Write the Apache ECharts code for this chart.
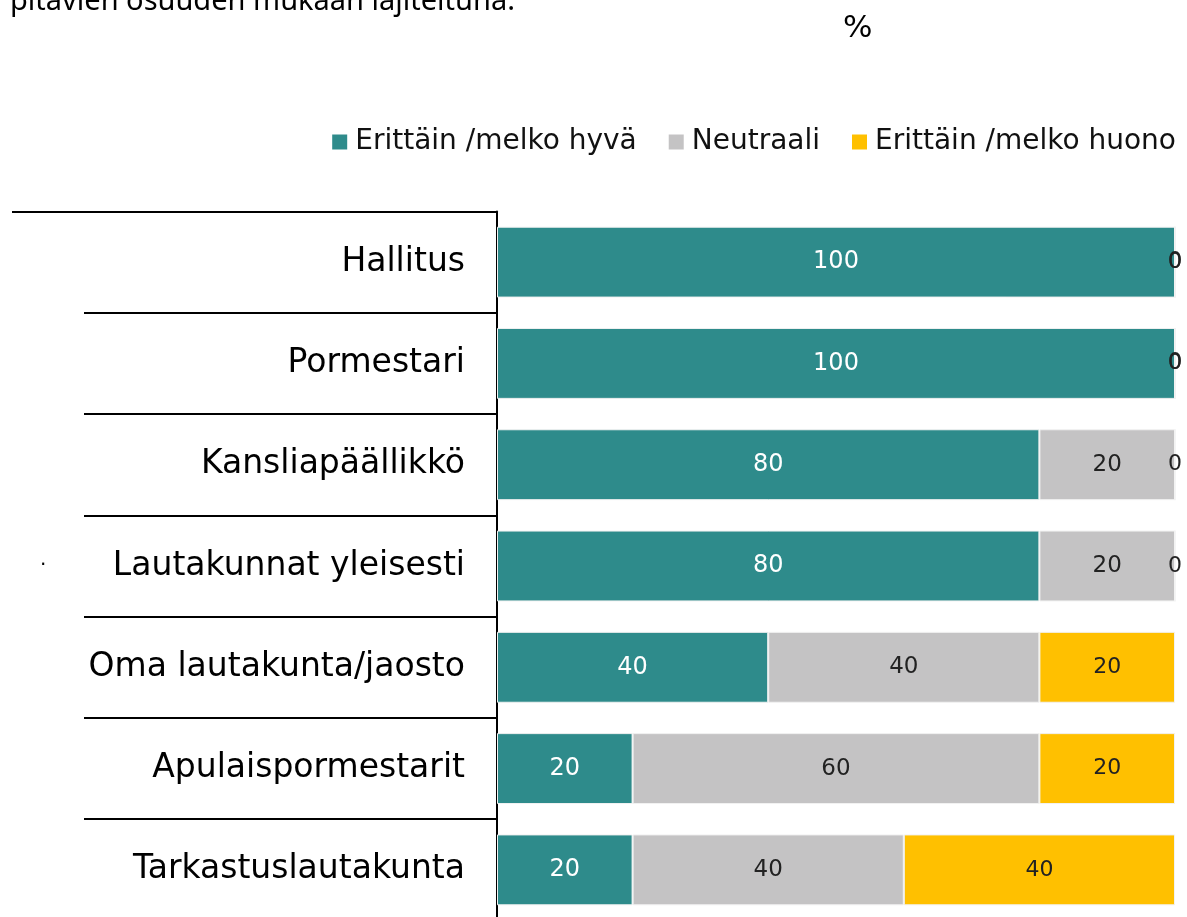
<!DOCTYPE html>
<html>
<head>
<meta charset="utf-8">
<script src="https://cdn.jsdelivr.net/npm/echarts@6/dist/echarts.min.js"></script>
<style>
  html, body { margin: 0; padding: 0; background: #fff; }
  #main { width: 1187px; height: 917px; }
</style>
</head>
<body>
<div id="main"></div>
<script>
let categories = [
	"Hallitus",
	"Pormestari",
	"Kansliapäällikkö",
	"Lautakunnat yleisesti",
	"Oma lautakunta/jaosto",
	"Apulaispormestarit",
	"Tarkastuslautakunta",
];

let good = [100, 100, 80, 80, 40, 20, 20];
let neutral = [0, 0, 20, 20, 40, 60, 40];
let bad = [0, 0, 0, 0, 20, 20, 40];

let font = "DejaVu Sans";

let myChart = echarts.init(document.getElementById("main"));

let options = {
	animation: false,
	textStyle: { fontFamily: font },
	legend: {
		right: 6,
		top: 123,
		itemWidth: 15,
		itemHeight: 15,
		itemGap: 32,
		icon: "rect",
		itemStyle: { borderWidth: 0 },
		textStyle: { fontSize: 28, color: "#111", fontFamily: font, padding: [0, 0, 0, 3] },
		data: ["Erittäin /melko hyvä", "Neutraali", "Erittäin /melko huono"],
	},
	grid: {
		left: 497,
		right: 12,
		top: 211.5,
		height: 709,
		outerBoundsMode: "none",
	},
	xAxis: {
		type: "value",
		min: 0,
		max: 100,
		show: false,
	},
	yAxis: {
		type: "category",
		inverse: true,
		data: categories,
		axisLine: { show: true, lineStyle: { color: "#000", width: 2 } },
		axisTick: { show: true, length: 413, lineStyle: { color: "#000", width: 2 } },
		axisLabel: { margin: 32, fontSize: 33, color: "#000", fontFamily: font, padding: [4, 0, 0, 0] },
	},
	graphic: [
		// cut off subtitle line at the top
		{
			type: "text",
			left: 10,
			top: -13,
			style: { text: "pitävien osuuden mukaan lajiteltuna.", font: "29px 'Noto Sans'", fill: "#000" },
		},
		{
			type: "text",
			left: 843,
			top: 13,
			style: { text: "%", font: "31px " + font, fill: "#000" },
		},
		{
			type: "line",
			shape: { x1: 12, y1: 212, x2: 90, y2: 212 },
			style: { stroke: "#000", lineWidth: 2 },
		},
		{
			type: "text",
			left: 40,
			top: 556,
			style: { text: "·", font: "20px " + font, fill: "#000" },
		},
	],
	series: [
		{
			name: "Erittäin /melko hyvä",
			type: "bar",
			stack: "all",
			barCategoryGap: "30%",
			data: good,
			itemStyle: { color: "#2E8B8B", borderColor: "#f2f2f2", borderWidth: 1 },
			label: { show: true, color: "#fff", fontSize: 24, fontFamily: font },
		},
		{
			name: "Neutraali",
			type: "bar",
			stack: "all",
			data: neutral,
			itemStyle: { color: "#C4C3C4", borderColor: "#f2f2f2", borderWidth: 1 },
			label: { show: true, color: "#222", fontSize: 23, fontFamily: font },
		},
		{
			name: "Erittäin /melko huono",
			type: "bar",
			stack: "all",
			data: bad,
			itemStyle: { color: "#FFC000", borderColor: "#f2f2f2", borderWidth: 1 },
			label: { show: true, color: "#222", fontSize: 22, fontFamily: font },
		},
	],
};

myChart.setOption(options);
</script>
</body>
</html>
